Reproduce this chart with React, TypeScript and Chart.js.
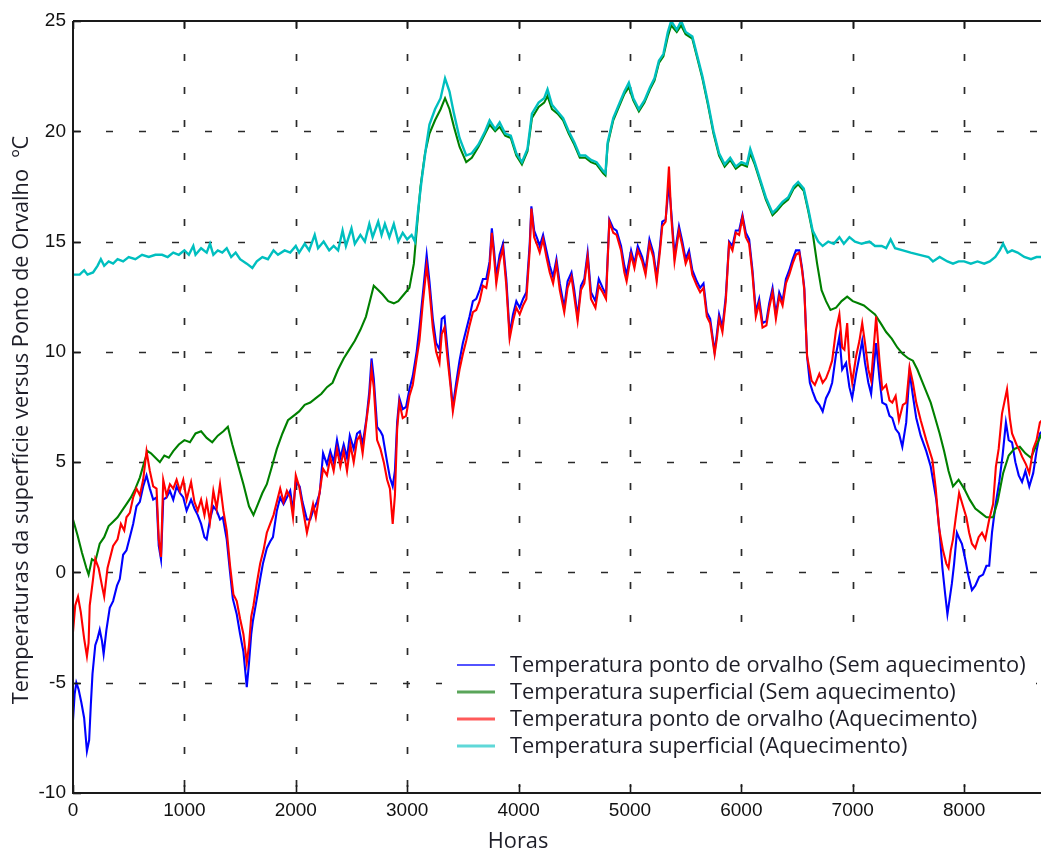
import React, { useEffect, useRef } from "react";
import { Chart, registerables } from "chart.js";

Chart.register(...registerables);

// ---------- Data ----------
const xTickValues = [0, 1000, 2000, 3000, 4000, 5000, 6000, 7000, 8000];
const yTickValues = [-10, -5, 0, 5, 10, 15, 20, 25];

const seriesLabels = [
  "Temperatura ponto de orvalho (Sem aquecimento)",
  "Temperatura superficial (Sem aquecimento)",
  "Temperatura ponto de orvalho (Aquecimento)",
  "Temperatura superficial (Aquecimento)",
];
const xAxisTitle = "Horas";
const yAxisTitle = "Temperaturas da superfície versus Ponto de Orvalho  ºC";

// Blue: dew point, no heating
const blueHours = [0, 15, 30, 50, 75, 100, 125, 145, 160, 175, 200, 220, 240, 260, 275, 300, 330, 360, 395, 420, 450, 480, 510, 540, 570, 600, 630, 660, 690, 720, 750, 770, 790, 810, 840, 870, 900, 930, 960, 990, 1020, 1060, 1090, 1120, 1150, 1180, 1200, 1230, 1260, 1290, 1320, 1345, 1380, 1410, 1435, 1470, 1500, 1530, 1560, 1580, 1600, 1615, 1650, 1680, 1705, 1740, 1770, 1795, 1830, 1860, 1890, 1920, 1950, 1975, 2000, 2035, 2060, 2100, 2130, 2155, 2190, 2215, 2245, 2280, 2310, 2340, 2370, 2400, 2430, 2460, 2485, 2520, 2550, 2575, 2600, 2635, 2660, 2680, 2700, 2730, 2760, 2780, 2820, 2845, 2870, 2890, 2910, 2930, 2960, 2990, 3020, 3050, 3085, 3110, 3140, 3175, 3200, 3230, 3260, 3290, 3310, 3335, 3360, 3390, 3410, 3440, 3470, 3500, 3530, 3560, 3590, 3620, 3650, 3680, 3710, 3740, 3760, 3780, 3800, 3830, 3860, 3890, 3920, 3950, 3980, 4010, 4040, 4070, 4100, 4115, 4140, 4170, 4190, 4220, 4250, 4280, 4310, 4340, 4370, 4410, 4440, 4475, 4500, 4530, 4560, 4590, 4620, 4650, 4690, 4720, 4755, 4785, 4815, 4850, 4880, 4920, 4950, 4970, 5010, 5040, 5070, 5110, 5140, 5175, 5210, 5240, 5270, 5290, 5320, 5350, 5370, 5400, 5440, 5470, 5500, 5530, 5560, 5600, 5630, 5660, 5690, 5720, 5760, 5780, 5800, 5830, 5860, 5890, 5920, 5950, 5980, 6010, 6040, 6070, 6100, 6130, 6160, 6190, 6225, 6250, 6280, 6310, 6340, 6370, 6400, 6430, 6460, 6490, 6520, 6545, 6565, 6590, 6615, 6640, 6670, 6700, 6730, 6760, 6790, 6815, 6850, 6880, 6905, 6940, 6970, 6995, 7030, 7060, 7085, 7110, 7140, 7165, 7190, 7210, 7240, 7265, 7300, 7330, 7355, 7385, 7415, 7445, 7480, 7510, 7540, 7570, 7610, 7660, 7700, 7750, 7780, 7805, 7830, 7850, 7870, 7890, 7910, 7935, 7960, 7980, 8010, 8040, 8070, 8100, 8135, 8170, 8200, 8225, 8250, 8280, 8315, 8345, 8375, 8400, 8430, 8460, 8490, 8520, 8550, 8585, 8620, 8650, 8680, 8700];
const blueTemps = [-6.7, -5.5, -5.0, -5.3, -5.9, -6.6, -8.1, -7.6, -6.0, -4.6, -3.3, -3.0, -2.6, -3.1, -3.7, -2.6, -1.6, -1.3, -0.6, -0.3, 0.8, 1.0, 1.6, 2.2, 3.0, 3.2, 3.9, 4.4, 3.8, 3.3, 3.4, 1.2, 0.6, 3.3, 3.4, 3.7, 3.3, 3.9, 3.6, 3.4, 2.8, 3.3, 2.9, 2.6, 2.2, 1.6, 1.5, 2.4, 3.0, 2.8, 2.4, 2.5, 1.5, 0.0, -1.2, -1.9, -2.8, -3.6, -5.2, -4.1, -2.8, -2.2, -1.2, -0.3, 0.4, 1.1, 1.4, 1.6, 2.8, 3.4, 3.1, 3.4, 3.7, 2.8, 4.1, 3.9, 3.2, 2.4, 2.4, 2.8, 3.2, 3.6, 5.4, 4.9, 5.5, 5.0, 6.0, 5.2, 5.8, 5.2, 6.2, 5.6, 6.3, 6.4, 5.8, 7.0, 8.2, 9.7, 8.8, 6.6, 6.4, 6.2, 5.0, 4.3, 3.9, 4.6, 6.8, 7.9, 7.4, 7.5, 8.3, 8.9, 10.0, 11.1, 12.6, 14.4, 13.2, 11.5, 10.4, 10.1, 11.5, 11.6, 10.2, 8.6, 7.5, 8.6, 9.6, 10.4, 11.0, 11.6, 12.3, 12.4, 12.8, 13.3, 13.3, 14.1, 15.6, 14.6, 13.4, 14.4, 14.9, 13.3, 10.8, 11.7, 12.3, 12.0, 12.4, 12.7, 14.9, 16.6, 15.5, 15.1, 14.8, 15.3, 14.6, 13.9, 13.4, 14.2, 13.1, 12.0, 13.2, 13.6, 12.8, 11.6, 13.0, 13.3, 14.5, 12.7, 12.3, 13.3, 12.9, 12.6, 16.0, 15.6, 15.5, 14.8, 13.9, 13.5, 14.6, 14.0, 14.8, 14.3, 13.7, 15.1, 14.5, 13.4, 14.8, 15.9, 16.0, 17.6, 16.4, 14.4, 15.7, 15.0, 14.2, 14.6, 13.7, 13.2, 12.9, 13.1, 11.8, 11.5, 10.0, 10.8, 11.7, 11.1, 12.5, 15.0, 14.8, 15.5, 15.5, 16.2, 15.4, 15.1, 13.7, 11.8, 12.4, 11.3, 11.4, 12.2, 12.9, 11.7, 12.7, 12.3, 13.3, 13.7, 14.2, 14.6, 14.6, 13.8, 12.9, 9.8, 8.6, 8.2, 7.8, 7.6, 7.3, 7.9, 8.2, 8.6, 9.9, 10.7, 9.2, 9.5, 8.4, 7.9, 9.0, 9.8, 10.5, 9.5, 8.6, 8.1, 9.4, 10.4, 8.8, 7.7, 7.6, 7.1, 7.0, 6.5, 6.3, 5.7, 6.8, 9.1, 8.0, 7.0, 6.2, 5.5, 4.8, 3.3, 1.8, 0.2, -1.0, -1.9, -1.2, -0.5, 0.4, 1.8, 1.5, 1.3, 0.6, -0.2, -0.8, -0.6, -0.2, -0.1, 0.3, 0.3, 1.8, 3.0, 4.1, 5.3, 6.8, 6.0, 5.9, 5.0, 4.4, 4.1, 4.6, 3.9, 4.5, 5.5, 6.3, 6.4];

// Green: surface temperature, no heating
const greenHours = [0, 40, 80, 120, 140, 170, 200, 240, 280, 320, 360, 400, 440, 480, 520, 560, 600, 640, 670, 700, 740, 780, 820, 860, 900, 950, 1000, 1050, 1100, 1150, 1200, 1250, 1300, 1350, 1390, 1430, 1480, 1530, 1580, 1620, 1660, 1700, 1740, 1780, 1830, 1880, 1930, 1980, 2030, 2080, 2130, 2180, 2230, 2280, 2330, 2380, 2430, 2480, 2530, 2580, 2630, 2670, 2700, 2740, 2780, 2830, 2880, 2920, 2970, 3020, 3060, 3090, 3120, 3160, 3200, 3250, 3300, 3340, 3380, 3420, 3470, 3530, 3580, 3640, 3700, 3740, 3790, 3830, 3880, 3930, 3980, 4030, 4080, 4120, 4180, 4230, 4260, 4300, 4350, 4400, 4450, 4500, 4550, 4600, 4650, 4700, 4760, 4780, 4800, 4850, 4900, 4950, 4990, 5030, 5080, 5130, 5180, 5220, 5260, 5300, 5340, 5370, 5420, 5460, 5500, 5560, 5600, 5650, 5700, 5750, 5800, 5850, 5900, 5950, 6000, 6050, 6080, 6120, 6170, 6220, 6280, 6320, 6370, 6420, 6470, 6510, 6560, 6600, 6640, 6680, 6720, 6760, 6800, 6850, 6900, 6950, 7000, 7050, 7100, 7150, 7200, 7250, 7300, 7350, 7400, 7450, 7500, 7540, 7580, 7620, 7660, 7700, 7740, 7780, 7820, 7860, 7900, 7950, 8000, 8050, 8100, 8150, 8200, 8260, 8300, 8350, 8400, 8450, 8500, 8550, 8600, 8650, 8700];
const greenTemps = [2.4, 1.7, 0.9, 0.2, -0.1, 0.6, 0.5, 1.3, 1.6, 2.1, 2.3, 2.5, 2.8, 3.1, 3.4, 3.8, 4.3, 5.0, 5.5, 5.4, 5.2, 5.0, 5.3, 5.2, 5.5, 5.8, 6.0, 5.9, 6.3, 6.4, 6.1, 5.9, 6.2, 6.4, 6.6, 5.8, 4.9, 4.0, 3.0, 2.6, 3.1, 3.6, 4.0, 4.7, 5.6, 6.3, 6.9, 7.1, 7.3, 7.6, 7.7, 7.9, 8.1, 8.4, 8.6, 9.2, 9.7, 10.1, 10.5, 11.0, 11.6, 12.4, 13.0, 12.8, 12.6, 12.3, 12.2, 12.3, 12.6, 12.9, 14.0, 15.8, 17.5, 19.0, 19.9, 20.5, 21.0, 21.5, 21.0, 20.2, 19.3, 18.6, 18.8, 19.3, 19.9, 20.3, 20.0, 20.2, 19.8, 19.7, 18.9, 18.5, 19.1, 20.6, 21.1, 21.3, 21.6, 21.0, 20.8, 20.5, 19.9, 19.4, 18.8, 18.8, 18.6, 18.5, 18.1, 18.0, 19.4, 20.5, 21.1, 21.7, 22.0, 21.4, 20.9, 21.3, 21.9, 22.3, 23.1, 23.4, 24.3, 24.8, 24.5, 24.8, 24.4, 24.2, 23.4, 22.4, 21.2, 19.9, 18.9, 18.4, 18.7, 18.3, 18.5, 18.4, 19.0, 18.5, 17.7, 16.9, 16.2, 16.4, 16.7, 16.9, 17.4, 17.6, 17.3, 16.4, 15.4, 14.0, 12.8, 12.3, 11.9, 12.0, 12.3, 12.5, 12.3, 12.2, 12.1, 11.9, 11.7, 11.3, 10.9, 10.6, 10.2, 9.9, 9.7, 9.6, 9.2, 8.7, 8.2, 7.7, 7.0, 6.3, 5.5, 4.6, 3.9, 4.2, 3.8, 3.3, 2.9, 2.7, 2.5, 2.5, 3.2, 4.5, 5.3, 5.6, 5.7, 5.4, 5.2, 5.8, 6.3];

// Red: dew point, with heating
const redHours = [0, 20, 45, 70, 100, 125, 140, 150, 180, 200, 230, 260, 280, 310, 340, 360, 400, 430, 460, 480, 510, 540, 570, 600, 630, 660, 690, 720, 750, 770, 790, 810, 840, 870, 900, 930, 960, 990, 1020, 1060, 1090, 1120, 1150, 1180, 1200, 1230, 1260, 1290, 1320, 1350, 1380, 1410, 1440, 1470, 1500, 1530, 1560, 1580, 1600, 1620, 1650, 1680, 1710, 1740, 1770, 1800, 1830, 1860, 1890, 1920, 1950, 1975, 2000, 2030, 2060, 2100, 2130, 2155, 2180, 2210, 2245, 2280, 2310, 2340, 2370, 2400, 2430, 2460, 2490, 2520, 2550, 2575, 2600, 2635, 2660, 2680, 2700, 2730, 2760, 2790, 2820, 2845, 2870, 2890, 2910, 2930, 2960, 2990, 3020, 3050, 3085, 3110, 3140, 3175, 3200, 3230, 3260, 3290, 3310, 3335, 3360, 3390, 3410, 3440, 3470, 3500, 3530, 3560, 3590, 3620, 3650, 3680, 3710, 3740, 3760, 3780, 3800, 3830, 3860, 3890, 3920, 3950, 3980, 4010, 4040, 4070, 4100, 4115, 4140, 4170, 4190, 4220, 4250, 4280, 4310, 4340, 4370, 4410, 4440, 4475, 4500, 4530, 4560, 4590, 4620, 4650, 4690, 4720, 4755, 4785, 4815, 4850, 4880, 4920, 4950, 4970, 5010, 5040, 5070, 5110, 5140, 5175, 5210, 5240, 5270, 5290, 5320, 5350, 5370, 5400, 5440, 5470, 5500, 5530, 5560, 5600, 5630, 5660, 5690, 5720, 5760, 5780, 5800, 5830, 5860, 5890, 5920, 5950, 5980, 6010, 6040, 6070, 6100, 6130, 6160, 6190, 6225, 6250, 6280, 6310, 6340, 6370, 6400, 6430, 6460, 6490, 6520, 6545, 6565, 6590, 6630, 6660, 6700, 6730, 6760, 6790, 6815, 6850, 6880, 6905, 6925, 6950, 6970, 6995, 7030, 7060, 7085, 7110, 7140, 7165, 7190, 7210, 7240, 7265, 7300, 7330, 7355, 7385, 7415, 7450, 7480, 7510, 7540, 7570, 7610, 7660, 7715, 7745, 7775, 7810, 7840, 7860, 7880, 7900, 7925, 7955, 7990, 8020, 8045, 8070, 8100, 8130, 8160, 8190, 8225, 8260, 8285, 8310, 8340, 8385, 8410, 8430, 8470, 8500, 8520, 8555, 8585, 8620, 8650, 8680, 8700];
const redTemps = [-2.7, -1.5, -1.1, -1.8, -3.0, -3.8, -3.2, -1.5, -0.3, 0.6, 0.2, -0.6, -1.1, 0.2, 0.8, 1.2, 1.5, 2.2, 1.9, 2.5, 2.7, 3.4, 3.8, 3.5, 4.2, 5.5, 4.6, 3.9, 3.8, 1.5, 0.7, 4.2, 3.5, 4.0, 3.8, 4.2, 3.7, 4.2, 3.3, 4.1, 3.2, 2.8, 3.3, 2.6, 3.2, 2.3, 3.7, 2.9, 4.0, 2.8, 1.9, 0.3, -1.0, -1.3, -2.1, -2.8, -4.1, -3.3, -2.0, -1.5, -0.5, 0.4, 1.0, 1.8, 2.2, 2.6, 3.2, 3.8, 3.2, 3.7, 3.4, 2.5, 4.4, 3.9, 3.0, 1.8, 2.5, 3.1, 2.5, 3.5, 4.7, 4.4, 5.2, 4.6, 5.6, 4.8, 5.5, 4.6, 5.8, 5.0, 6.0, 6.2, 5.4, 6.9, 7.9, 9.2, 8.4, 6.0, 5.6, 5.0, 4.2, 3.8, 2.2, 3.5, 6.5, 7.7, 7.0, 7.1, 8.0, 8.5, 9.7, 10.5, 12.2, 13.9, 12.8, 11.1, 10.0, 9.5, 10.8, 11.1, 9.8, 8.4, 7.3, 8.3, 9.2, 9.9, 10.5, 11.2, 11.8, 11.9, 12.3, 13.0, 12.9, 13.8, 15.4, 14.3, 13.1, 14.1, 14.7, 13.0, 10.6, 11.4, 12.0, 11.7, 12.1, 12.4, 14.6, 16.5, 15.2, 14.8, 14.5, 15.1, 14.3, 13.6, 13.1, 14.0, 12.8, 11.8, 12.9, 13.4, 12.5, 11.4, 12.8, 13.1, 14.3, 12.4, 12.0, 13.0, 12.7, 12.4, 15.9, 15.4, 15.3, 14.6, 13.6, 13.2, 14.4, 13.8, 14.6, 14.1, 13.5, 14.9, 14.3, 13.2, 14.6, 15.7, 15.9, 18.4, 16.2, 14.1, 15.5, 14.8, 14.0, 14.4, 13.5, 13.0, 12.7, 12.9, 11.6, 11.3, 9.9, 10.6, 11.5, 10.9, 12.3, 14.9, 14.6, 15.4, 15.3, 16.1, 15.2, 14.9, 13.5, 11.6, 12.2, 11.1, 11.2, 12.0, 12.7, 11.5, 12.5, 12.1, 13.1, 13.5, 14.0, 14.4, 14.5, 13.7, 12.8, 9.8, 8.7, 8.5, 9.0, 8.6, 8.8, 9.2, 9.6, 11.0, 11.7, 10.2, 10.1, 11.3, 9.5, 8.6, 9.8, 10.5, 11.3, 10.4, 9.2, 8.7, 10.3, 11.6, 9.6, 8.3, 8.5, 7.8, 7.7, 8.0, 6.9, 7.6, 7.7, 9.3, 8.6, 7.7, 6.9, 6.0, 5.1, 3.8, 2.0, 1.0, 0.4, 0.2, 1.0, 1.5, 2.5, 3.6, 3.0, 2.5, 1.8, 1.3, 1.1, 1.6, 1.8, 1.5, 2.4, 3.1, 4.8, 5.6, 7.2, 8.3, 7.0, 6.3, 5.8, 5.5, 5.25, 4.9, 4.5, 5.6, 6.0, 6.8, 6.9];

// Cyan: surface temperature, with heating
const cyanHours = [0, 60, 100, 130, 180, 220, 250, 280, 320, 360, 400, 450, 500, 560, 620, 680, 740, 800, 850, 900, 950, 1000, 1040, 1080, 1100, 1150, 1200, 1230, 1260, 1300, 1340, 1380, 1420, 1460, 1500, 1560, 1610, 1650, 1700, 1750, 1800, 1840, 1900, 1950, 2000, 2030, 2080, 2120, 2170, 2200, 2250, 2300, 2340, 2380, 2420, 2450, 2500, 2530, 2580, 2620, 2660, 2690, 2740, 2770, 2800, 2840, 2880, 2920, 2960, 3000, 3040, 3070, 3100, 3130, 3170, 3200, 3250, 3300, 3340, 3380, 3420, 3470, 3530, 3580, 3640, 3700, 3740, 3790, 3830, 3880, 3930, 3980, 4030, 4080, 4120, 4180, 4230, 4260, 4300, 4350, 4400, 4450, 4500, 4550, 4600, 4650, 4700, 4760, 4780, 4800, 4850, 4900, 4950, 4990, 5030, 5080, 5130, 5180, 5220, 5260, 5300, 5340, 5370, 5420, 5460, 5500, 5560, 5600, 5650, 5700, 5750, 5800, 5850, 5900, 5950, 6000, 6050, 6080, 6120, 6170, 6220, 6280, 6320, 6370, 6420, 6470, 6510, 6560, 6600, 6640, 6690, 6730, 6780, 6830, 6880, 6920, 6970, 7020, 7080, 7150, 7200, 7260, 7300, 7340, 7380, 7450, 7520, 7600, 7680, 7720, 7780, 7850, 7900, 7950, 8000, 8060, 8120, 8180, 8230, 8280, 8320, 8350, 8390, 8430, 8480, 8540, 8600, 8650, 8700];
const cyanTemps = [13.5, 13.5, 13.7, 13.5, 13.6, 13.9, 14.2, 13.9, 14.1, 14.0, 14.2, 14.1, 14.3, 14.2, 14.4, 14.3, 14.4, 14.4, 14.3, 14.5, 14.4, 14.6, 14.4, 14.8, 14.4, 14.7, 14.5, 14.9, 14.4, 14.6, 14.5, 14.7, 14.3, 14.5, 14.2, 14.0, 13.8, 14.1, 14.3, 14.2, 14.6, 14.4, 14.6, 14.5, 14.8, 14.5, 14.9, 14.6, 15.3, 14.7, 15.0, 14.6, 14.8, 14.6, 15.5, 14.8, 15.6, 14.9, 15.3, 15.0, 15.8, 15.2, 15.9, 15.3, 15.8, 15.2, 15.8, 15.0, 15.4, 15.1, 15.3, 15.0, 16.5, 17.8, 19.3, 20.3, 21.0, 21.5, 22.4, 21.8, 20.8, 19.7, 18.9, 19.0, 19.4, 20.0, 20.5, 20.1, 20.4, 19.9, 19.8, 19.0, 18.6, 19.2, 20.8, 21.3, 21.5, 21.9, 21.2, 20.9, 20.6, 20.0, 19.5, 18.9, 18.9, 18.7, 18.6, 18.2, 18.1, 19.5, 20.6, 21.2, 21.8, 22.2, 21.5, 21.0, 21.4, 22.0, 22.4, 23.2, 23.5, 24.5, 25.0, 24.6, 25.0, 24.5, 24.3, 23.5, 22.5, 21.3, 20.0, 19.0, 18.5, 18.8, 18.4, 18.6, 18.5, 19.2, 18.6, 17.8, 17.0, 16.3, 16.5, 16.8, 17.0, 17.5, 17.7, 17.4, 16.5, 15.5, 15.0, 14.8, 15.0, 14.9, 15.2, 14.9, 15.2, 15.0, 14.9, 15.0, 14.8, 14.8, 14.7, 15.1, 14.7, 14.6, 14.5, 14.4, 14.3, 14.1, 14.3, 14.1, 14.0, 14.1, 14.1, 14.0, 14.1, 14.0, 14.1, 14.3, 14.6, 14.9, 14.5, 14.6, 14.5, 14.3, 14.2, 14.3, 14.3];

const seriesColors = ["#0000ff", "#008000", "#ff0000", "#00bfbf"];
const legendLineColors = ["#1a1aff", "#5aa55a", "#ff5a5a", "#5fd8d8"];
const legendLineWidths = [1.5, 3, 3, 3];

// ---------- Helpers ----------
const toPoints = (hours: number[], temps: number[]) =>
  hours.map((h, i) => ({ x: h, y: temps[i] }));

const TEXT_FONT = '21.8px "Open Sans", "Noto Sans", sans-serif';

const framePlugin = {
  id: "matlabFrame",
  beforeDatasetsDraw(chart: any) {
    const { ctx, chartArea, scales } = chart;
    const { left, right, top, bottom } = chartArea;
    ctx.save();
    ctx.strokeStyle = "#2a2a2a";
    ctx.lineWidth = 1.7;
    ctx.setLineDash([7, 26]);
    xTickValues.forEach((v) => {
      if (v === 0) return;
      const x = Math.round(scales.x.getPixelForValue(v)) + 0.5;
      ctx.beginPath();
      ctx.moveTo(x, top);
      ctx.lineTo(x, bottom);
      ctx.stroke();
    });
    yTickValues.forEach((v) => {
      if (v === -10 || v === 25) return;
      const y = Math.round(scales.y.getPixelForValue(v)) + 0.5;
      ctx.beginPath();
      ctx.moveTo(left, y);
      ctx.lineTo(right + 40, y);
      ctx.stroke();
    });
    ctx.restore();
  },
  afterDatasetsDraw(chart: any) {
    const { ctx, chartArea, scales } = chart;
    const { left, right, top, bottom } = chartArea;
    ctx.save();

    // legend box (white, borderless) inside the plot, lower right
    ctx.fillStyle = "#ffffff";
    ctx.fillRect(left + 369, bottom - 153, 594, 144);

    const lineX0 = left + 384;
    const lineX1 = left + 422;
    const textX = left + 437;
    const rowY0 = bottom - 128;
    const rowGap = 27;
    ctx.font = TEXT_FONT;
    ctx.textBaseline = "middle";
    ctx.textAlign = "left";
    seriesLabels.forEach((label, i) => {
      const y = rowY0 + i * rowGap;
      ctx.strokeStyle = legendLineColors[i];
      ctx.lineWidth = legendLineWidths[i];
      ctx.beginPath();
      ctx.moveTo(lineX0, y);
      ctx.lineTo(lineX1, y);
      ctx.stroke();
      ctx.fillStyle = "#1e1e28";
      ctx.fillText(label, textX, y + 1);
    });

    // axes frame
    ctx.setLineDash([]);
    ctx.strokeStyle = "#1a1a1a";
    ctx.lineWidth = 2;
    ctx.beginPath();
    ctx.moveTo(left, top);
    ctx.lineTo(right + 40, top);
    ctx.moveTo(left, top);
    ctx.lineTo(left, bottom);
    ctx.lineTo(right + 40, bottom);
    ctx.stroke();
    ctx.lineWidth = 1.6;
    xTickValues.forEach((v) => {
      const x = Math.round(scales.x.getPixelForValue(v)) + 0.5;
      ctx.beginPath();
      ctx.moveTo(x, bottom);
      ctx.lineTo(x, bottom - 8);
      ctx.moveTo(x, top);
      ctx.lineTo(x, top + 8);
      ctx.stroke();
    });
    yTickValues.forEach((v) => {
      const y = Math.round(scales.y.getPixelForValue(v)) + 0.5;
      ctx.beginPath();
      ctx.moveTo(left, y);
      ctx.lineTo(left + 8, y);
      ctx.stroke();
    });
    ctx.restore();
  },
  afterDraw(chart: any) {
    const { ctx, chartArea } = chart;
    ctx.save();
    ctx.fillStyle = "#1e1e28";
    ctx.font = TEXT_FONT;
    ctx.textAlign = "center";
    ctx.textBaseline = "middle";
    ctx.fillText(xAxisTitle, chartArea.left + 445, chartArea.bottom + 49);
    ctx.translate(22, (chartArea.top + chartArea.bottom) / 2 + 13);
    ctx.rotate(-Math.PI / 2);
    ctx.fillText(yAxisTitle, 0, 0);
    ctx.restore();
  },
};

export default function App() {
  const canvasRef = useRef<HTMLCanvasElement | null>(null);

  useEffect(() => {
    document.body.style.margin = "0";
    const canvas = canvasRef.current;
    if (!canvas) return;
    const chart = new Chart(canvas, {
      type: "line",
      data: {
        datasets: [
          {
            label: seriesLabels[0],
            data: toPoints(blueHours, blueTemps),
            borderColor: seriesColors[0],
            borderWidth: 2.1,
            order: 4,
          },
          {
            label: seriesLabels[1],
            data: toPoints(greenHours, greenTemps),
            borderColor: seriesColors[1],
            borderWidth: 2.1,
            order: 3,
          },
          {
            label: seriesLabels[2],
            data: toPoints(redHours, redTemps),
            borderColor: seriesColors[2],
            borderWidth: 2.1,
            order: 2,
          },
          {
            label: seriesLabels[3],
            data: toPoints(cyanHours, cyanTemps),
            borderColor: seriesColors[3],
            borderWidth: 2.4,
            order: 1,
          },
        ],
      },
      options: {
        responsive: false,
        animation: false,
        parsing: false as any,
        normalized: true,
        elements: {
          point: { radius: 0, hoverRadius: 0 },
          line: { tension: 0, fill: false },
        },
        layout: { padding: { top: 21, right: 0, left: 0, bottom: 0 } },
        plugins: {
          legend: { display: false },
          tooltip: { enabled: false },
          title: { display: false },
        },
        scales: {
          x: {
            type: "linear",
            min: 0,
            max: 8690,
            grid: { display: false, drawTicks: false },
            border: { display: false },
            afterBuildTicks: (scale: any) => {
              scale.ticks = xTickValues.map((v) => ({ value: v }));
            },
            afterFit: (scale: any) => {
              scale.height = 57;
            },
            ticks: {
              autoSkip: false,
              maxRotation: 0,
              padding: 6,
              color: "#111",
              font: { family: '"Liberation Sans", Arial, sans-serif', size: 19 },
              callback: (v: any) => String(v),
            },
          },
          y: {
            type: "linear",
            min: -10,
            max: 25,
            grid: { display: false, drawTicks: false },
            border: { display: false },
            afterBuildTicks: (scale: any) => {
              scale.ticks = yTickValues.map((v) => ({ value: v }));
            },
            afterFit: (scale: any) => {
              scale.width = 73;
            },
            ticks: {
              autoSkip: false,
              padding: 7,
              color: "#111",
              font: { family: '"Liberation Sans", Arial, sans-serif', size: 19 },
              callback: (v: any) => String(v),
            },
          },
        },
      },
      plugins: [framePlugin],
    });
    return () => chart.destroy();
  }, []);

  return (
    <div style={{ position: "fixed", left: 0, top: 0, width: 1041, height: 850, background: "#fff" }}>
      <canvas ref={canvasRef} width={1041} height={850} style={{ display: "block" }} />
    </div>
  );
}
